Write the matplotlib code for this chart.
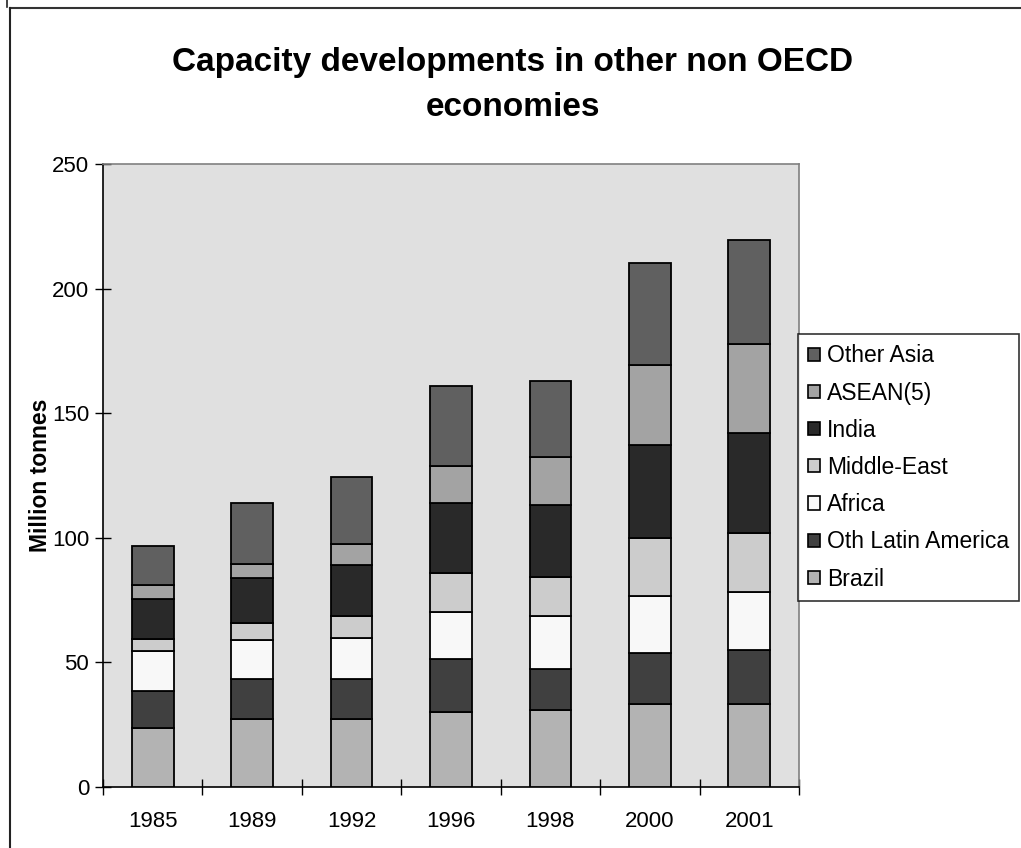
import numpy as np
import matplotlib
matplotlib.use("Agg")
import matplotlib.pyplot as plt
from matplotlib.patches import Patch
from matplotlib.lines import Line2D

plt.rcParams['font.family'] = ['Liberation Sans', 'DejaVu Sans']

# Data (million tonnes)
years = ['1985', '1989', '1992', '1996', '1998', '2000', '2001']
brazil = [23.6, 27.2, 27.2, 30.0, 30.8, 33.5, 33.5]
oth_latin = [15.1, 16.0, 16.0, 21.5, 16.4, 20.2, 21.6]
africa = [15.8, 15.6, 16.5, 18.7, 21.4, 23.0, 23.0]
middle_east = [4.7, 7.1, 9.1, 15.5, 15.7, 23.4, 23.8]
india = [16.2, 18.0, 20.1, 28.1, 28.9, 37.0, 40.1]
asean = [5.6, 5.7, 8.6, 15.0, 19.1, 32.3, 35.9]
other_asia = [15.9, 24.5, 26.7, 32.2, 30.7, 41.0, 41.7]

series = [
    ('Brazil', brazil, '#b3b3b3'),
    ('Oth Latin America', oth_latin, '#404040'),
    ('Africa', africa, '#f8f8f8'),
    ('Middle-East', middle_east, '#cccccc'),
    ('India', india, '#292929'),
    ('ASEAN(5)', asean, '#a3a3a3'),
    ('Other Asia', other_asia, '#606060'),
]

W, H = 1021, 848
fig = plt.figure(figsize=(W / 100, H / 100), dpi=100)
ax = fig.add_axes([103 / W, 1 - 787 / H, (799 - 103) / W, (787 - 164) / H])
ax.set_facecolor('#e0e0e0')

x = np.arange(len(years))
bottom = np.zeros(len(years))
for name, vals, col in series:
    ax.bar(x, vals, width=0.42, bottom=bottom, color=col,
           edgecolor='black', linewidth=1.3, label=name, zorder=3)
    bottom += np.array(vals)

ax.set_xlim(-0.5, len(years) - 0.5)
ax.set_ylim(0, 250)
ax.set_yticks(range(0, 251, 50))
ax.set_xticks(x)
ax.set_xticklabels(years)
ax.set_xticks(np.arange(-0.5, len(years)), minor=True)
ax.tick_params(axis='x', which='major', length=0, pad=17, labelsize=16)
ax.tick_params(axis='x', which='minor', direction='inout', length=12, width=1, color='black')
ax.tick_params(axis='y', direction='inout', length=12, width=1, labelsize=16, pad=4)

for s in ['left', 'bottom']:
    ax.spines[s].set_color('black')
    ax.spines[s].set_linewidth(1.2)
for s in ['top', 'right']:
    ax.spines[s].set_color('#808080')
    ax.spines[s].set_linewidth(1.2)

ax.set_ylabel('Million tonnes', fontsize=16.5, fontweight='bold', labelpad=0)

# Title (centred on the whole chart)
fig.text(513 / W, 1 - 63 / H, 'Capacity developments in other non OECD',
         ha='center', va='center', fontsize=24, fontweight='bold')
fig.text(513 / W, 1 - 107 / H, 'economies',
         ha='center', va='center', fontsize=24, fontweight='bold')

# Legend (reverse order, Other Asia on top)
handles = [Patch(facecolor=col, edgecolor='black', linewidth=1.2, label=name)
           for name, vals, col in series][::-1]
leg = fig.legend(handles=handles, loc='upper left',
                 bbox_to_anchor=(798 / W, 1 - 334 / H), borderaxespad=0,
                 fontsize=16.5, frameon=True, fancybox=False,
                 handlelength=0.5, handleheight=0.5, handletextpad=0.3,
                 labelspacing=0.62, borderpad=0.45)
leg.get_frame().set_edgecolor('black')
leg.get_frame().set_linewidth(1.2)

# Outer chart border
fig.add_artist(Line2D([10 / W, 1], [1 - 7.5 / H, 1 - 7.5 / H], color='#333333', lw=1.5,
                      transform=fig.transFigure))
fig.add_artist(Line2D([10 / W, 10 / W], [0, 1 - 7.5 / H], color='#222222', lw=1.5,
                      transform=fig.transFigure))
fig.add_artist(Line2D([7 / W, 7 / W], [1 - 7 / H, 1], color='#222222', lw=1.2,
                      transform=fig.transFigure))

fig.savefig('out.png', dpi=100)
